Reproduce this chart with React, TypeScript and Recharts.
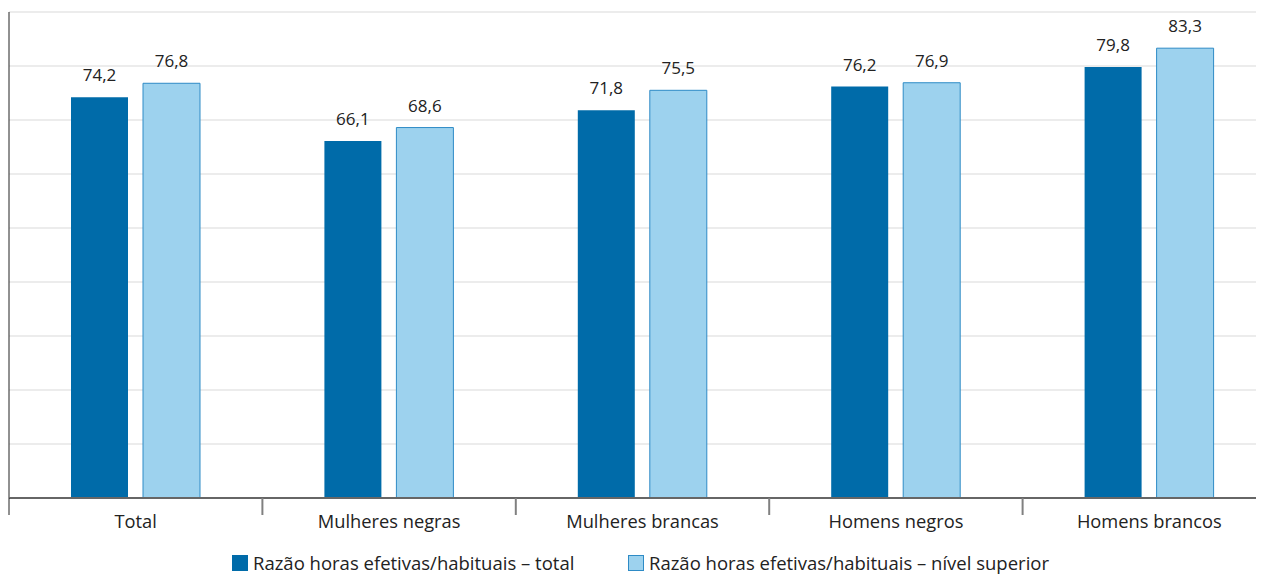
import { Bar, BarChart, CartesianGrid, LabelList, Legend, XAxis, YAxis } from "recharts";

const categories = ["Total", "Mulheres negras", "Mulheres brancas", "Homens negros", "Homens brancos"];
const totalValues = [74.2, 66.1, 71.8, 76.2, 79.8];
const superiorValues = [76.8, 68.6, 75.5, 76.9, 83.3];
const seriesNames = [
  "Razão horas efetivas/habituais – total",
  "Razão horas efetivas/habituais – nível superior",
];
const yTicks = [0, 10, 20, 30, 40, 50, 60, 70, 80, 90];

const DARK = "#006ba9";
const LIGHT = "#9dd2ee";
const LIGHT_STROKE = "#2e8bc6";
const FONT = "'Open Sans', sans-serif";

const CHART_W = 1268;
const BAND = (CHART_W - 1) / categories.length;

const data = categories.map((c, i) => ({
  name: c,
  total: totalValues[i],
  superior: superiorValues[i],
}));

const fmt = (v: number) => v.toFixed(1).replace(".", ",");

function CategoryTick(props: any) {
  const { x, y, payload } = props;
  const left = x - BAND / 2;
  return (
    <g>
      <line
        x1={left}
        x2={left}
        y1={y}
        y2={y + 17}
        stroke={payload.index === 0 ? "#222" : "#808080"}
        strokeWidth={payload.index === 0 ? 1 : 2}
      />
      <text
        x={x}
        y={y + 30}
        textAnchor="middle"
        fontSize={18.3}
        fontFamily={FONT}
        fill="#222"
      >
        {payload.value}
      </text>
    </g>
  );
}

function LegendContent() {
  const colors = [
    { fill: DARK, stroke: DARK },
    { fill: LIGHT, stroke: LIGHT_STROKE },
  ];
  return (
    <div
      style={{
        display: "flex",
        marginLeft: 224,
        marginTop: -6,
        fontFamily: FONT,
        fontSize: 18.5,
        lineHeight: "26px",
        color: "#222",
        height: 26,
        alignItems: "center",
      }}
    >
      {seriesNames.map((n, i) => (
        <div
          key={n}
          style={{ display: "flex", alignItems: "center", width: i === 0 ? 396 : "auto" }}
        >
          <span
            style={{
              display: "inline-block",
              width: 14,
              height: 14,
              background: colors[i].fill,
              border: `1px solid ${colors[i].stroke}`,
              marginRight: 5,
            }}
          />
          <span style={{ whiteSpace: "nowrap" }}>{n}</span>
        </div>
      ))}
    </div>
  );
}

export default function App() {
  return (
    <div style={{ width: 1256, height: 568, overflow: "hidden" }}>
      <BarChart
        width={CHART_W}
        height={568}
        data={data}
        margin={{ top: 4, right: 0, left: 0, bottom: 0 }}
        barSize={57}
        barGap={15}
      >
        <CartesianGrid vertical={false} stroke="#d9d9d9" strokeWidth={1} />
        <YAxis
          width={1}
          domain={[0, 90]}
          ticks={yTicks}
          tickFormatter={() => ""}
          tickLine={false}
          axisLine={{ stroke: "#222", strokeWidth: 1 }}
        />
        <XAxis
          dataKey="name"
          height={58}
          tickSize={0}
          tickMargin={0}
          tickLine={false}
          interval={0}
          axisLine={{ stroke: "#666", strokeWidth: 2 }}
          tick={<CategoryTick />}
        />
        <Legend verticalAlign="bottom" height={20} content={<LegendContent />} />
        <Bar dataKey="total" fill={DARK} isAnimationActive={false}>
          <LabelList
            dataKey="total"
            position="top"
            offset={16}
            formatter={(v: any) => fmt(Number(v))}
            style={{ fontSize: 17, fontFamily: FONT, fill: "#222" }}
          />
        </Bar>
        <Bar
          dataKey="superior"
          fill={LIGHT}
          stroke={LIGHT_STROKE}
          strokeWidth={1}
          isAnimationActive={false}
        >
          <LabelList
            dataKey="superior"
            position="top"
            offset={16}
            formatter={(v: any) => fmt(Number(v))}
            style={{ fontSize: 17, fontFamily: FONT, fill: "#222" }}
          />
        </Bar>
      </BarChart>
    </div>
  );
}
